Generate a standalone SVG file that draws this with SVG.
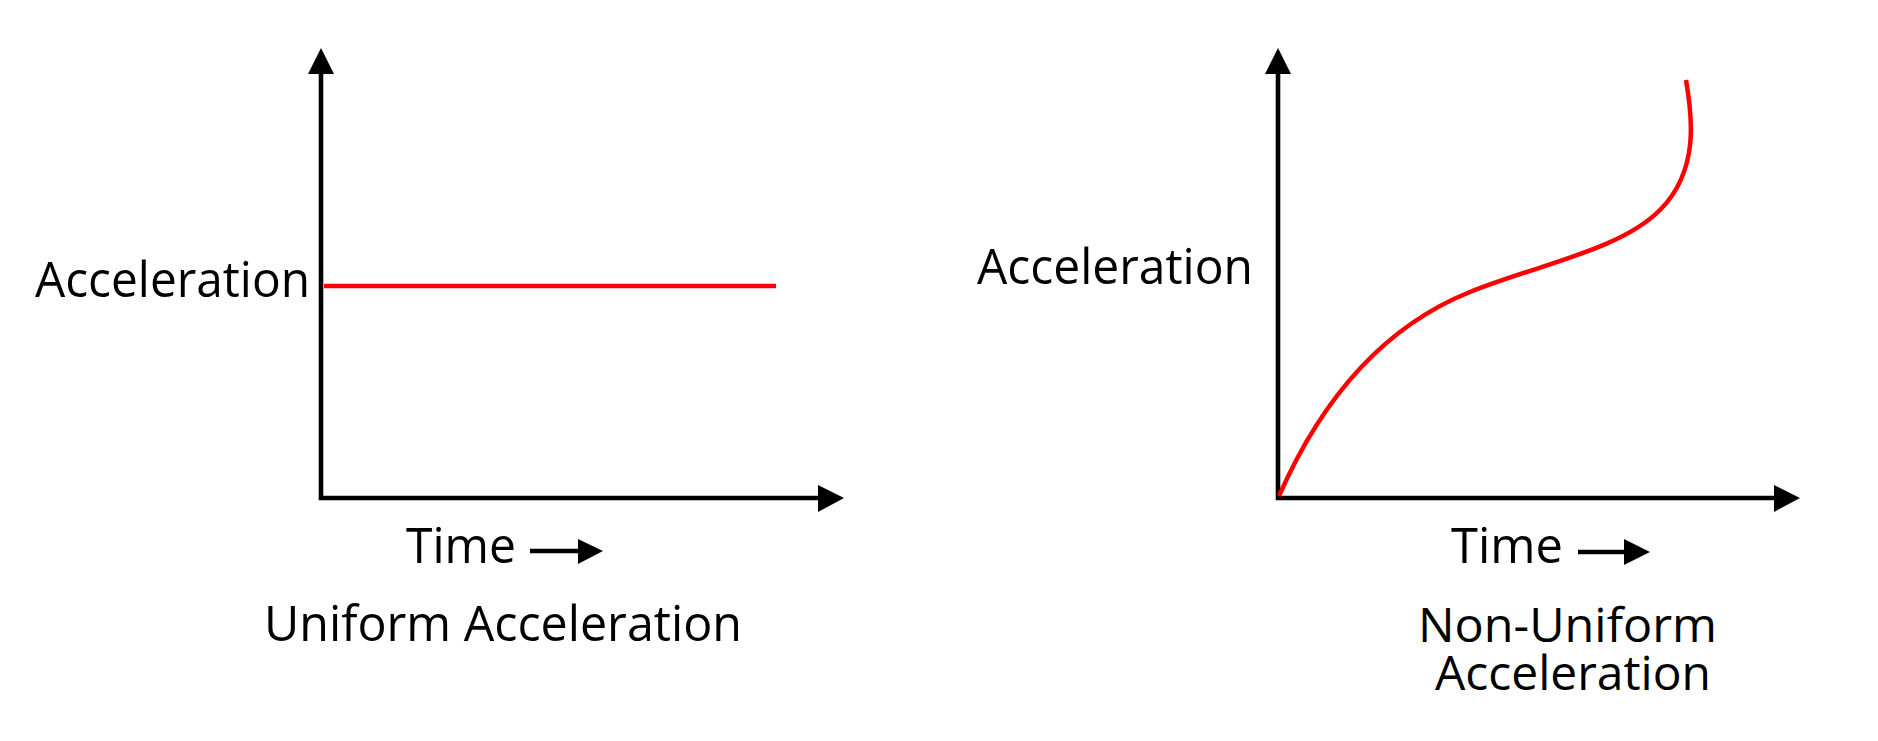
<svg xmlns="http://www.w3.org/2000/svg" width="1878" height="741" viewBox="0 0 1878 741">
<style>
.axis{stroke:#000;stroke-width:4.6;fill:none}
.head{fill:#000}
.curve{stroke:#ff0000;stroke-width:4.5;fill:none}
.lbl{font-family:"Open Sans","Noto Sans","Liberation Sans",sans-serif;font-size:50px;fill:#000}
.lbl2{font-size:47px}
</style>
<rect width="1878" height="741" fill="#fff"/>
<g id="connectors">
  <path class="axis" d="M321,74 V498 H818"/>
  <polygon class="head" points="321,48 308,74 334,74"/>
  <polygon class="head" points="844,498 818,485 818,512"/>
  <path class="axis" d="M530,551 H579"/>
  <polygon class="head" points="603,551 578,539 578,564"/>
  <path class="axis" d="M1278,74 V498 H1774"/>
  <polygon class="head" points="1278,48 1265,74 1291,74"/>
  <polygon class="head" points="1800,498 1774,485 1774,512"/>
  <path class="axis" d="M1578,552 H1625"/>
  <polygon class="head" points="1650,552 1624,539 1624,565"/>
</g>
<g id="uniform-line">
  <path class="curve" d="M324,286 H776"/>
</g>
<g id="nonuniform-curve">
  <path class="curve" d="M1279,496 C1330,380 1400,320 1470,292 C1540,264 1620,250 1660,210 C1700,170 1692,115 1686,80"/>
</g>
<g id="left-labels">
  <text class="lbl" x="35" y="297" textLength="275" lengthAdjust="spacingAndGlyphs">Acceleration</text>
  <text class="lbl" x="406" y="563" textLength="110" lengthAdjust="spacingAndGlyphs">Time</text>
  <text class="lbl" x="264" y="641" textLength="478" lengthAdjust="spacingAndGlyphs">Uniform Acceleration</text>
</g>
<g id="right-labels">
  <text class="lbl" x="977" y="284" textLength="276" lengthAdjust="spacingAndGlyphs">Acceleration</text>
  <text class="lbl" x="1451" y="563" textLength="112" lengthAdjust="spacingAndGlyphs">Time</text>
  <text class="lbl lbl2" x="1418" y="642" textLength="299" lengthAdjust="spacingAndGlyphs">Non-Uniform</text>
  <text class="lbl lbl2" x="1435" y="690" textLength="276" lengthAdjust="spacingAndGlyphs">Acceleration</text>
</g>
</svg>
